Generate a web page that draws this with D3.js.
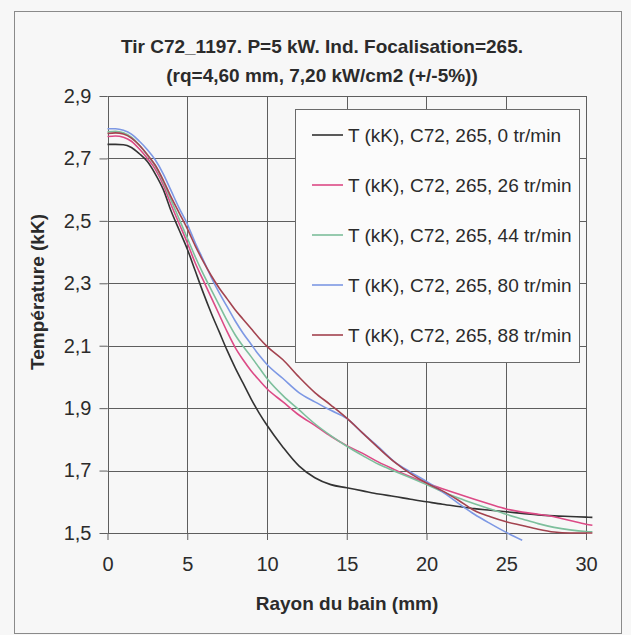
<!DOCTYPE html>
<html>
<head>
<meta charset="utf-8">
<script src="https://cdn.jsdelivr.net/npm/d3@7"></script>
<style>
  body { margin: 0; background: #f7f7f7; }
  text { font-family: "Liberation Sans", Arial, sans-serif; fill: #2b2b2b; }
</style>
</head>
<body>
<div id="chart"></div>
<script>
// Rayon du bain (mm)
const rayon = [0, 0.5, 1, 1.5, 2, 2.5, 3, 3.5, 4, 4.5, 5, 5.5, 6, 6.5, 7, 7.5, 8, 8.5, 9, 9.5,
  10, 11, 12, 13, 14, 15, 16, 17, 18, 19, 20, 21, 22, 23, 24, 25, 26, 27, 28, 29, 30, 30.4];

// Température (kK) par vitesse de rotation
const t0 = [2.745, 2.745, 2.744, 2.735, 2.715, 2.69, 2.65, 2.60, 2.53, 2.47, 2.41, 2.34, 2.27, 2.205, 2.145, 2.085, 2.03, 1.98, 1.93, 1.885,
  1.845, 1.775, 1.715, 1.677, 1.655, 1.645, 1.635, 1.625, 1.617, 1.608, 1.600, 1.592, 1.585, 1.578, 1.573, 1.568, 1.563, 1.558, 1.555, 1.553, 1.551, 1.55];
const t26 = [2.77, 2.772, 2.768, 2.755, 2.73, 2.70, 2.665, 2.615, 2.55, 2.49, 2.43, 2.365, 2.31, 2.255, 2.20, 2.145, 2.095, 2.055, 2.02, 1.99,
  1.962, 1.92, 1.878, 1.845, 1.81, 1.78, 1.755, 1.727, 1.703, 1.68, 1.66, 1.642, 1.625, 1.608, 1.592, 1.577, 1.567, 1.56, 1.552, 1.54, 1.528, 1.525];
const t44 = [2.785, 2.787, 2.782, 2.768, 2.742, 2.71, 2.675, 2.625, 2.565, 2.505, 2.445, 2.385, 2.33, 2.28, 2.23, 2.18, 2.135, 2.098, 2.065, 2.03,
  1.995, 1.94, 1.895, 1.85, 1.812, 1.778, 1.748, 1.72, 1.698, 1.677, 1.655, 1.632, 1.612, 1.594, 1.577, 1.56, 1.545, 1.53, 1.518, 1.51, 1.505, 1.504];
const t80 = [2.795, 2.795, 2.79, 2.778, 2.755, 2.728, 2.695, 2.65, 2.595, 2.54, 2.49, 2.43, 2.375, 2.32, 2.27, 2.225, 2.18, 2.14, 2.105, 2.07,
  2.04, 1.995, 1.95, 1.92, 1.893, 1.867, 1.82, 1.775, 1.728, 1.695, 1.665, 1.632, 1.595, 1.56, 1.53, 1.502, 1.477, null, null, null, null, null];
const t88 = [2.78, 2.782, 2.778, 2.765, 2.742, 2.712, 2.678, 2.63, 2.575, 2.525, 2.475, 2.42, 2.37, 2.325, 2.285, 2.25, 2.215, 2.185, 2.155, 2.125,
  2.098, 2.055, 2.0, 1.95, 1.91, 1.868, 1.82, 1.772, 1.727, 1.69, 1.66, 1.635, 1.605, 1.572, 1.552, 1.536, 1.524, 1.512, 1.503, 1.50, 1.50, 1.50];

const seriesNames = ["T (kK), C72, 265, 0 tr/min", "T (kK), C72, 265, 26 tr/min", "T (kK), C72, 265, 44 tr/min",
  "T (kK), C72, 265, 80 tr/min", "T (kK), C72, 265, 88 tr/min"];
const seriesValues = [t0, t26, t44, t80, t88];
const seriesColors = ["#333333", "#dc4a86", "#7dbf9c", "#7d98e4", "#a3434f"];

const xTicks = [0, 5, 10, 15, 20, 25, 30];
const yTicks = [1.5, 1.7, 1.9, 2.1, 2.3, 2.5, 2.7, 2.9];

const W = 631, H = 635;
const svg = d3.select("#chart").append("svg").attr("width", W).attr("height", H);

// outer frame
svg.append("rect").attr("x", 14.5).attr("y", 11.5).attr("width", 607).attr("height", 622)
  .attr("fill", "#f7f7f7").attr("stroke", "#8a8a8a");

const x = d3.scaleLinear().domain([0, 30]).range([107.5, 586]);
const y = d3.scaleLinear().domain([1.5, 2.9]).range([533, 96]);

// title
svg.append("text").attr("x", 322).attr("y", 53).attr("text-anchor", "middle")
  .style("font-size", "19px").style("font-weight", "bold")
  .text("Tir C72_1197. P=5 kW. Ind. Focalisation=265.");
svg.append("text").attr("x", 322).attr("y", 82).attr("text-anchor", "middle")
  .style("font-size", "19px").style("font-weight", "bold")
  .text("(rq=4,60 mm, 7,20 kW/cm2 (+/-5%))");

// grid
const grid = svg.append("g").attr("stroke", "#5e5e5e").attr("stroke-width", 1);
grid.selectAll(".gx").data(xTicks).enter().append("line")
  .attr("x1", d => Math.round(x(d)) + 0.5).attr("x2", d => Math.round(x(d)) + 0.5)
  .attr("y1", y(2.9)).attr("y2", y(1.5));
grid.selectAll(".gy").data(yTicks).enter().append("line")
  .attr("y1", d => Math.round(y(d)) + 0.5).attr("y2", d => Math.round(y(d)) + 0.5)
  .attr("x1", x(0)).attr("x2", x(30));

// axes
const fmt = d => d3.format(".1f")(d).replace(".", ",");
const yAxis = svg.append("g").attr("transform", "translate(" + x(0) + ",0)")
  .call(d3.axisLeft(y).tickValues(yTicks).tickFormat(fmt).tickSize(8).tickPadding(8));
const xAxis = svg.append("g").attr("transform", "translate(0," + y(1.5) + ")")
  .call(d3.axisBottom(x).tickValues(xTicks).tickSize(7).tickPadding(17));
[yAxis, xAxis].forEach(a => {
  a.select(".domain").remove();
  a.selectAll("line").attr("stroke", "#5e5e5e");
  a.selectAll("text").style("font-size", "20px").attr("fill", "#2b2b2b");
});

// axis titles
svg.append("text").attr("x", 347).attr("y", 610).attr("text-anchor", "middle")
  .style("font-size", "19px").style("font-weight", "bold").text("Rayon du bain (mm)");
svg.append("text").attr("transform", "translate(44,292) rotate(-90)").attr("text-anchor", "middle")
  .style("font-size", "19px").style("font-weight", "bold").text("Température (kK)");

// lines
const line = d3.line()
  .defined(d => d[1] != null)
  .x(d => x(d[0])).y(d => y(d[1]))
  .curve(d3.curveMonotoneX);

svg.append("g").selectAll("path")
  .data(seriesValues)
  .enter().append("path")
  .attr("fill", "none")
  .attr("stroke", (d, i) => seriesColors[i])
  .attr("stroke-width", 1.6)
  .attr("d", vals => line(rayon.map((r, j) => [r, vals[j]])));

// legend
const legend = svg.append("g");
legend.append("rect").attr("x", 295.5).attr("y", 109.5).attr("width", 284).attr("height", 253)
  .attr("fill", "#fbfbfb").attr("stroke", "#6a6a6a");
const item = legend.selectAll(".legend")
  .data(seriesNames)
  .enter().append("g")
  .attr("class", "legend")
  .attr("transform", (d, i) => "translate(0," + (135 + i * 50) + ")");
item.append("line").attr("x1", 312).attr("x2", 343)
  .attr("stroke", (d, i) => seriesColors[i]).attr("stroke-width", 1.6);
item.append("text").attr("x", 348).attr("dy", "0.35em")
  .style("font-size", "19px").text(d => d);
</script>
</body>
</html>
